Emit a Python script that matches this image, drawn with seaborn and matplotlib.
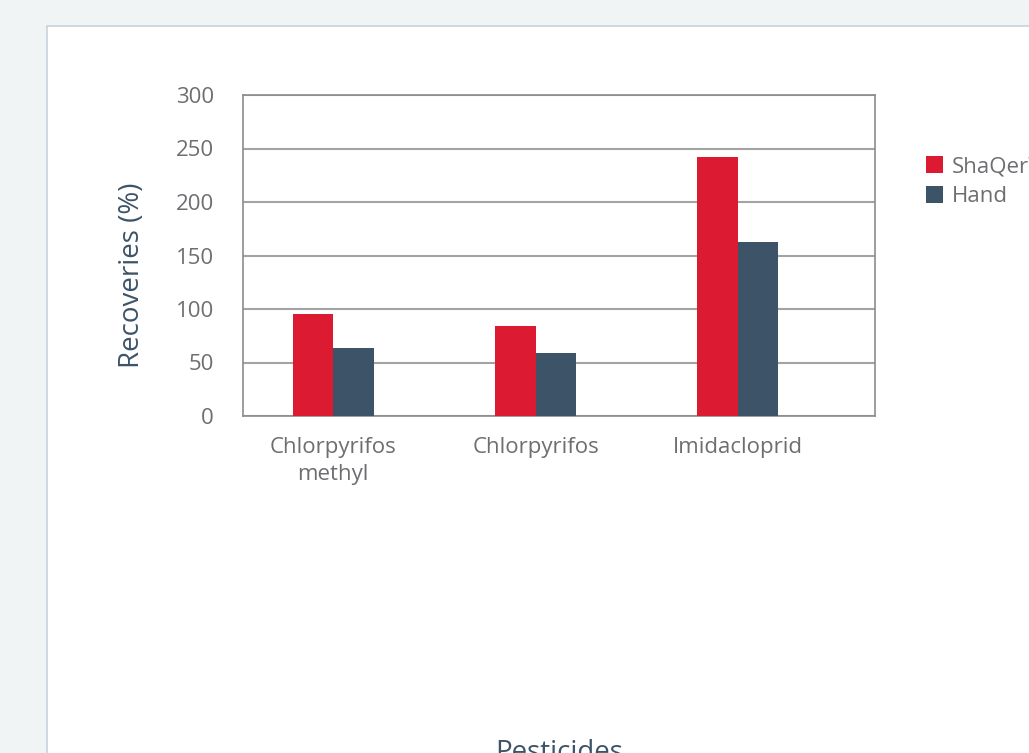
import pandas as pd
import seaborn as sns
import matplotlib.pyplot as plt
from matplotlib.patches import Rectangle

# Veriler
pesticides = ["Chlorpyrifos\nmethyl", "Chlorpyrifos", "Imidacloprid"]
shaqer = [95, 84, 242]
hand = [64, 59, 163]
methods = ["ShaQer™", "Hand"]

df = pd.DataFrame({
    "Pesticide": pesticides * 2,
    "Recovery": shaqer + hand,
    "Method": [methods[0]] * 3 + [methods[1]] * 3,
})

sns.set_theme(style="white")
plt.rcParams["font.family"] = ["Open Sans", "DejaVu Sans"]

gray = "#6d6e71"
slate = "#3d5468"

fig = plt.figure(figsize=(10.29, 7.53), dpi=100, facecolor="#f0f4f5")
# beyaz panel (eksenlerin arkasında)
fig.patches.append(Rectangle((47 / 1029, -0.1), 1.2, (753 - 26) / 753 + 0.1,
                             transform=fig.transFigure, facecolor="white",
                             edgecolor="#c9d3db", linewidth=1.2, zorder=-10))

ax = fig.add_axes([243 / 1029, (753 - 416) / 753, (875 - 243) / 1029, (416 - 95) / 753])
sns.barplot(data=df, x="Pesticide", y="Recovery", hue="Method",
            palette=["#dc1a32", slate], width=0.4, saturation=1,
            linewidth=0, ax=ax, zorder=3)

ax.set_ylim(0, 300)
ax.set_xlim(-0.445, 2.677)
ax.set_yticks(range(0, 301, 50))
ax.yaxis.grid(True, color="#a3a3a3", linewidth=1.5, zorder=0)
ax.set_axisbelow(True)
for s in ax.spines.values():
    s.set_color("#8c8c8c")
    s.set_linewidth(1.2)
ax.tick_params(axis="both", length=0, labelsize=16, colors=gray)
ax.tick_params(axis="x", pad=15)
ax.tick_params(axis="y", pad=21)
for lbl in ax.get_xticklabels():
    lbl.set_linespacing(1.4)

ax.set_ylabel("Recoveries (%)", fontsize=20, color=slate)
ax.yaxis.set_label_coords(-0.153, 0.44)
ax.set_xlabel("Pesticides", fontsize=20, color=slate, labelpad=183)

leg = ax.legend(loc="upper left", bbox_to_anchor=(1.08, 0.81), frameon=False,
                fontsize=16, handlelength=0.77, handleheight=0.77,
                handletextpad=0.4, labelspacing=0.42, borderaxespad=0,
                borderpad=0)
for t in leg.get_texts():
    t.set_color(gray)

fig.savefig("out.png", dpi=100, facecolor=fig.get_facecolor())
